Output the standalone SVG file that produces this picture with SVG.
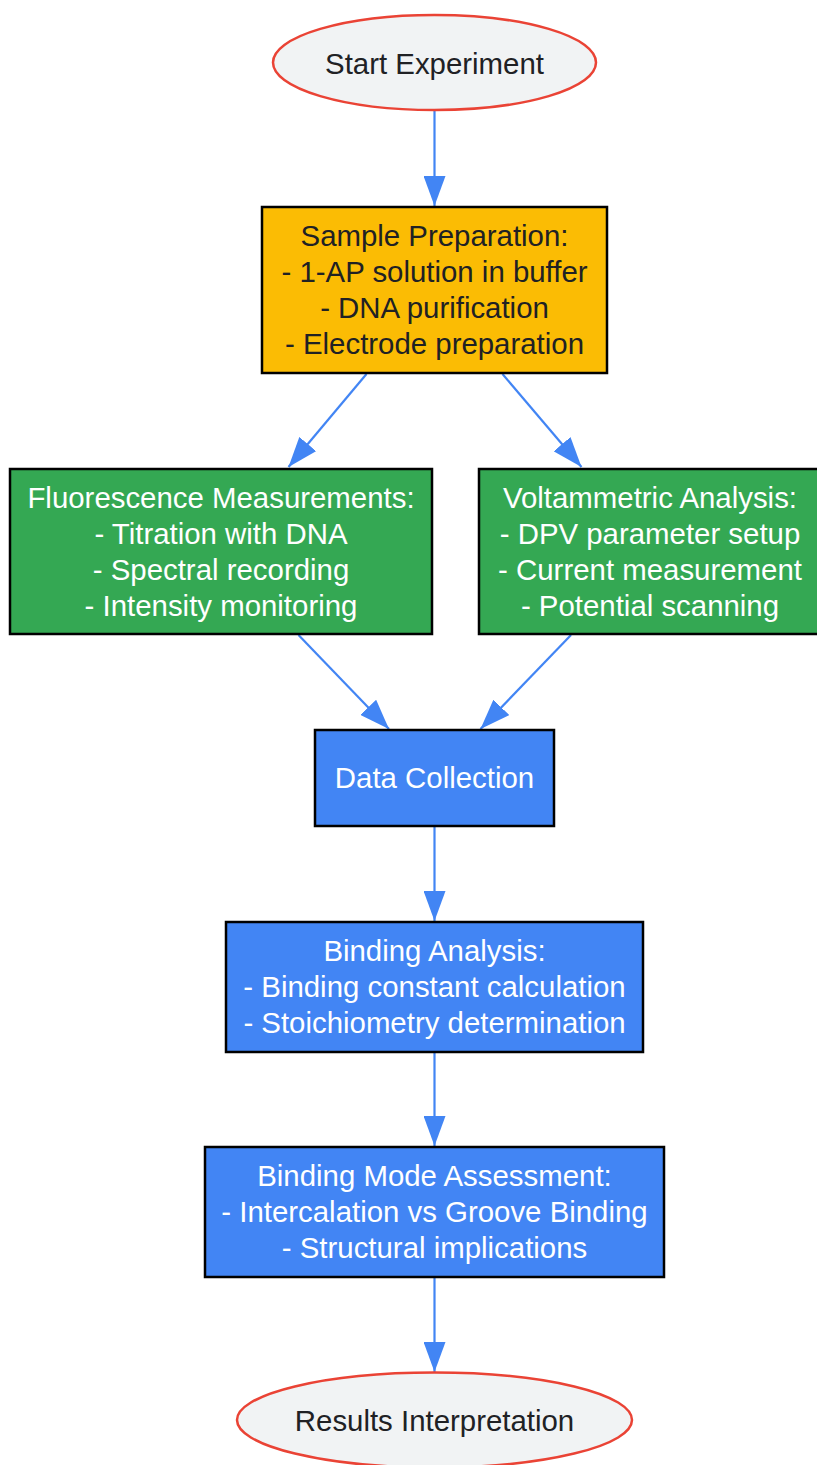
<svg xmlns="http://www.w3.org/2000/svg" width="817" height="1465" viewBox="0 0 817 1465">
<style>
text{font-family:"Liberation Sans",Arial,sans-serif;font-size:29.4px;text-anchor:middle}
.dk{fill:#202124}
.wt{fill:#ffffff}
.term{fill:#F1F3F4;stroke:#EA4335;stroke-width:2.5}
.box{stroke:#000000;stroke-width:2.5}
.edge{stroke:#4285F4;stroke-width:2.2;fill:none}
</style>
<defs>
<marker id="ah" markerUnits="userSpaceOnUse" markerWidth="30" markerHeight="22" refX="30" refY="11" orient="auto">
<path d="M0,0 L30,11 L0,22 Z" fill="#4285F4"/>
</marker>
</defs>
<rect width="817" height="1465" fill="#ffffff"/>
<g id="edges">
<line class="edge" x1="434.5" y1="111" x2="434.5" y2="206" marker-end="url(#ah)"/>
<line class="edge" x1="366.5" y1="374" x2="288.5" y2="467" marker-end="url(#ah)"/>
<line class="edge" x1="502.5" y1="374" x2="581.5" y2="467" marker-end="url(#ah)"/>
<line class="edge" x1="298.5" y1="635" x2="389" y2="729" marker-end="url(#ah)"/>
<line class="edge" x1="571" y1="635" x2="480.5" y2="729" marker-end="url(#ah)"/>
<line class="edge" x1="434.5" y1="827" x2="434.5" y2="921" marker-end="url(#ah)"/>
<line class="edge" x1="434.5" y1="1053" x2="434.5" y2="1146" marker-end="url(#ah)"/>
<line class="edge" x1="434.5" y1="1278" x2="434.5" y2="1372" marker-end="url(#ah)"/>
</g>
<g id="start">
<ellipse class="term" cx="434.5" cy="62.5" rx="161.5" ry="47.5"/>
<text class="dk" x="434.5" y="73.5">Start Experiment</text>
</g>
<g id="prep">
<rect class="box" x="262" y="207" width="345" height="166" fill="#FBBC04"/>
<text class="dk" x="434.5" y="245.5">Sample Preparation:</text>
<text class="dk" x="434.5" y="281.5">- 1-AP solution in buffer</text>
<text class="dk" x="434.5" y="317.5">- DNA purification</text>
<text class="dk" x="434.5" y="353.5">- Electrode preparation</text>
</g>
<g id="fluor">
<rect class="box" x="10" y="469" width="422" height="165" fill="#34A853"/>
<text class="wt" x="221" y="508">Fluorescence Measurements:</text>
<text class="wt" x="221" y="544">- Titration with DNA</text>
<text class="wt" x="221" y="580">- Spectral recording</text>
<text class="wt" x="221" y="616">- Intensity monitoring</text>
</g>
<g id="volt">
<rect class="box" x="479" y="469" width="342" height="165" fill="#34A853"/>
<text class="wt" x="650" y="508">Voltammetric Analysis:</text>
<text class="wt" x="650" y="544">- DPV parameter setup</text>
<text class="wt" x="650" y="580">- Current measurement</text>
<text class="wt" x="650" y="616">- Potential scanning</text>
</g>
<g id="data">
<rect class="box" x="315" y="730" width="239" height="96" fill="#4285F4"/>
<text class="wt" x="434.5" y="787.5">Data Collection</text>
</g>
<g id="binding">
<rect class="box" x="226" y="922" width="417" height="130" fill="#4285F4"/>
<text class="wt" x="434.5" y="961">Binding Analysis:</text>
<text class="wt" x="434.5" y="997">- Binding constant calculation</text>
<text class="wt" x="434.5" y="1033">- Stoichiometry determination</text>
</g>
<g id="mode">
<rect class="box" x="205" y="1147" width="459" height="130" fill="#4285F4"/>
<text class="wt" x="434.5" y="1186">Binding Mode Assessment:</text>
<text class="wt" x="434.5" y="1222">- Intercalation vs Groove Binding</text>
<text class="wt" x="434.5" y="1258">- Structural implications</text>
</g>
<g id="results">
<ellipse class="term" cx="434.5" cy="1420" rx="197.5" ry="47.5"/>
<text class="dk" x="434.5" y="1431">Results Interpretation</text>
</g>
</svg>
